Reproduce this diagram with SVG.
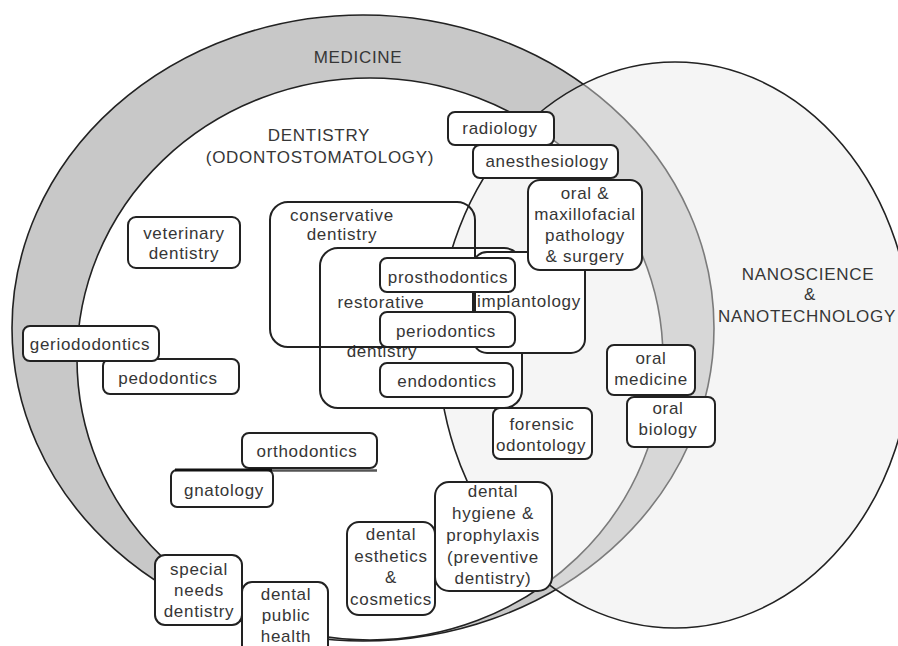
<svg xmlns="http://www.w3.org/2000/svg" width="898" height="646" viewBox="0 0 898 646">
<style>
.t{font-family:"Liberation Sans",Arial,sans-serif;font-size:17px;letter-spacing:0.7px;fill:#363636;text-anchor:middle}
.b{fill:#fff;stroke:#222;stroke-width:2}
.e{stroke:#222;stroke-width:1.6}
</style>
<rect x="0" y="0" width="898" height="646" fill="#fff"/>
<g id="medicine">
<ellipse class="e" cx="363" cy="328" rx="351" ry="313" fill="#c8c8c8"/>
<text class="t" x="358" y="63">MEDICINE</text>
</g>
<g id="dentistry">
<ellipse class="e" cx="370" cy="359" rx="293" ry="281" fill="#fff"/>
<text class="t" x="319" y="141">DENTISTRY</text>
<text class="t" x="320" y="163">(ODONTOSTOMATOLOGY)</text>
</g>
<g id="nanoscience">
<ellipse class="e" cx="675" cy="345" rx="237" ry="283" fill="#e8e8e8" fill-opacity="0.45"/>
<text class="t" x="808" y="280">NANOSCIENCE</text>
<text class="t" x="810" y="300">&amp;</text>
<text class="t" x="807" y="322">NANOTECHNOLOGY</text>
</g>
<g id="connectors"></g>
<g id="restorative">
<rect class="b" x="320" y="248" width="202" height="160" rx="18"/>
<text class="t" x="381" y="308">restorative</text>
<text class="t" x="382" y="357">dentistry</text>
</g>
<g id="implantology">
<rect class="b" x="473" y="252" width="112" height="101" rx="14"/>
<text class="t" x="529" y="307">implantology</text>
</g>
<g id="conservative">
<rect x="270" y="202" width="205" height="145" rx="18" fill="none" stroke="#222" stroke-width="2"/>
<text class="t" x="342" y="221">conservative</text>
<text class="t" x="342" y="240">dentistry</text>
</g>
<g id="prosthodontics">
<rect class="b" x="380" y="258" width="135" height="34" rx="7"/>
<text class="t" x="448" y="283">prosthodontics</text>
</g>
<g id="periodontics">
<rect class="b" x="380" y="312" width="135" height="35" rx="7"/>
<text class="t" x="446" y="337">periodontics</text>
</g>
<g id="endodontics">
<rect class="b" x="380" y="363" width="133" height="34" rx="7"/>
<text class="t" x="447" y="387">endodontics</text>
</g>
<g id="radiology">
<rect class="b" x="448" y="112" width="106" height="33" rx="7"/>
<text class="t" x="500" y="134">radiology</text>
</g>
<g id="anesthesiology">
<rect class="b" x="473" y="145" width="145" height="33" rx="7"/>
<text class="t" x="547" y="167">anesthesiology</text>
</g>
<g id="oral-maxillofacial">
<rect class="b" x="528" y="180" width="114" height="90" rx="12"/>
<text class="t" x="585" y="199">oral &amp;</text>
<text class="t" x="585" y="220">maxillofacial</text>
<text class="t" x="585" y="241">pathology</text>
<text class="t" x="585" y="262">&amp; surgery</text>
</g>
<g id="oral-medicine">
<rect class="b" x="607" y="345" width="88" height="50" rx="7"/>
<text class="t" x="651" y="364">oral</text>
<text class="t" x="651" y="385">medicine</text>
</g>
<g id="oral-biology">
<rect class="b" x="627" y="397" width="88" height="50" rx="7"/>
<text class="t" x="668" y="414">oral</text>
<text class="t" x="668" y="435">biology</text>
</g>
<g id="forensic">
<rect class="b" x="493" y="408" width="99" height="51" rx="7"/>
<text class="t" x="542" y="430">forensic</text>
<text class="t" x="541" y="451">odontology</text>
</g>
<g id="hygiene">
<rect class="b" x="435" y="482" width="117" height="109" rx="14"/>
<text class="t" x="493" y="497">dental</text>
<text class="t" x="493" y="519">hygiene &amp;</text>
<text class="t" x="493" y="541">prophylaxis</text>
<text class="t" x="493" y="563">(preventive</text>
<text class="t" x="493" y="584">dentistry)</text>
</g>
<g id="esthetics">
<rect class="b" x="347" y="522" width="88" height="93" rx="12"/>
<text class="t" x="391" y="540">dental</text>
<text class="t" x="391" y="562">esthetics</text>
<text class="t" x="391" y="583">&amp;</text>
<text class="t" x="391" y="605">cosmetics</text>
</g>
<g id="public-health">
<rect class="b" x="242" y="582" width="86" height="80" rx="10"/>
<text class="t" x="286" y="600">dental</text>
<text class="t" x="286" y="621">public</text>
<text class="t" x="286" y="642">health</text>
</g>
<g id="special-needs">
<rect class="b" x="155" y="555" width="87" height="70" rx="10"/>
<text class="t" x="199" y="575">special</text>
<text class="t" x="199" y="596">needs</text>
<text class="t" x="199" y="617">dentistry</text>
</g>
<g id="orthodontics">
<rect class="b" x="242" y="433" width="135" height="35" rx="7"/>
<line x1="272" y1="470.5" x2="377" y2="470.5" stroke="#555" stroke-width="2.5"/>
<text class="t" x="307" y="457">orthodontics</text>
</g>
<g id="gnatology">
<rect class="b" x="171" y="470" width="102" height="37" rx="6"/>
<line x1="175" y1="470" x2="272" y2="470" stroke="#111" stroke-width="3"/>
<text class="t" x="224" y="496">gnatology</text>
</g>
<g id="pedodontics">
<rect class="b" x="103" y="359" width="136" height="35" rx="7"/>
<text class="t" x="168" y="384">pedodontics</text>
</g>
<g id="geriododontics">
<rect class="b" x="23" y="326" width="136" height="35" rx="7"/>
<text class="t" x="90" y="350">geriododontics</text>
</g>
<g id="veterinary">
<rect class="b" x="128" y="217" width="112" height="51" rx="8"/>
<text class="t" x="184" y="239">veterinary</text>
<text class="t" x="184" y="259">dentistry</text>
</g>
</svg>
